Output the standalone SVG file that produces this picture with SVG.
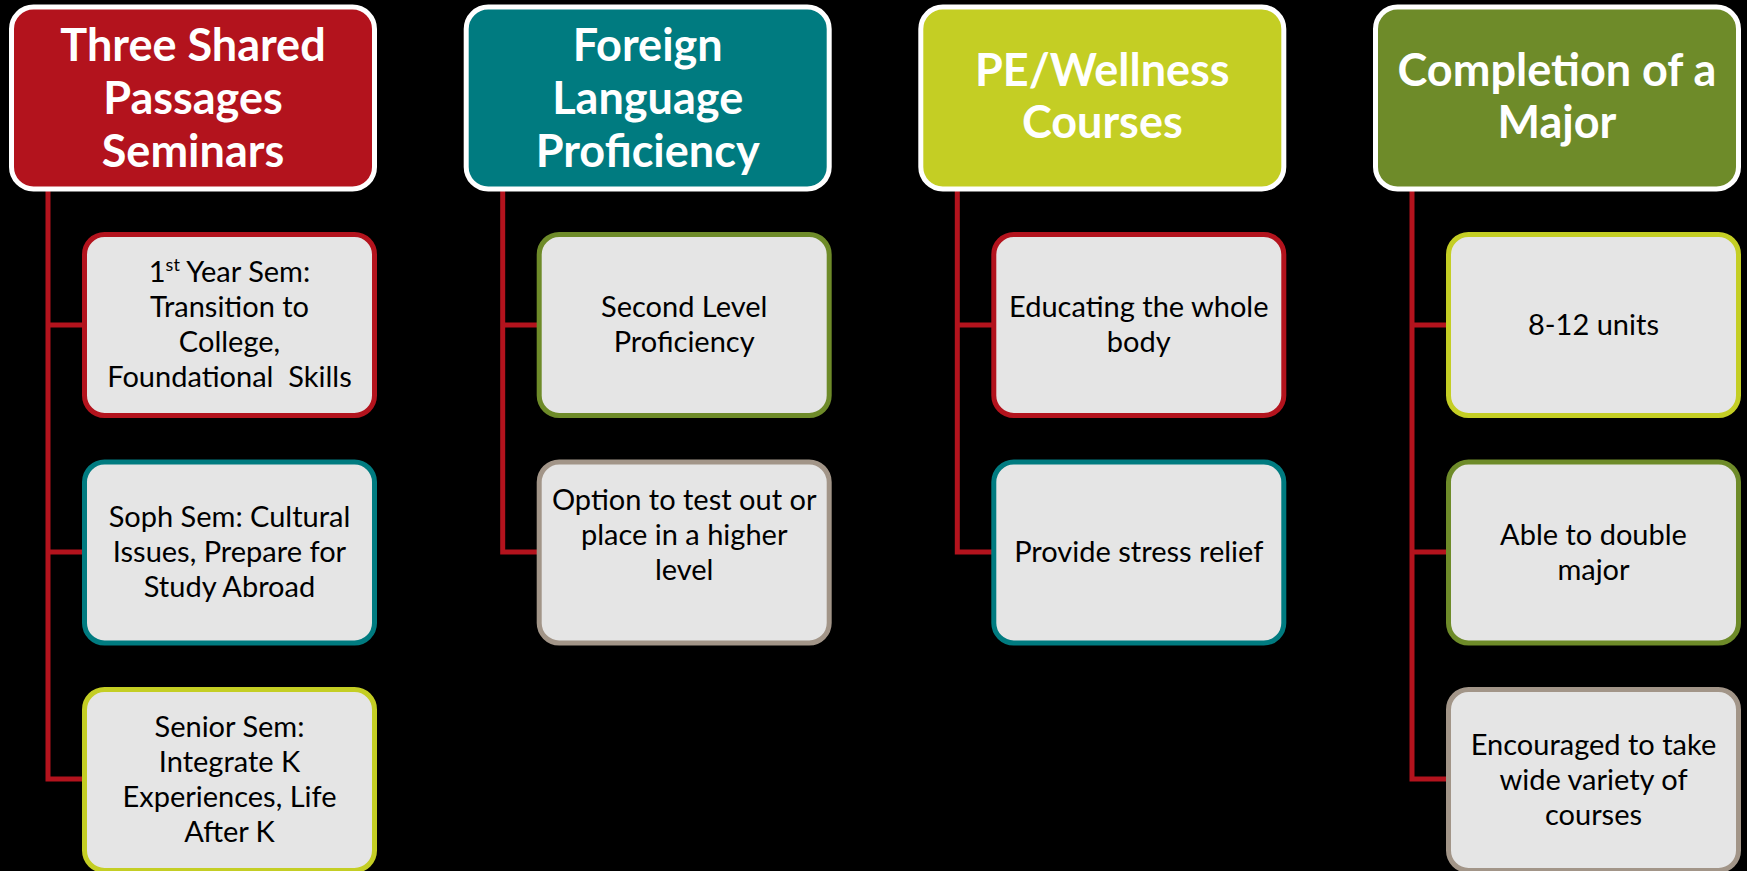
<svg xmlns="http://www.w3.org/2000/svg" width="1747" height="871" viewBox="0 0 1747 871">
<style>
.hd{stroke:#FFFFFF;stroke-width:5}
.ch{fill:#E5E5E5;stroke-width:5}
.ht{font-family:Lato,"Open Sans",sans-serif;font-weight:bold;font-size:45px;fill:#FFFFFF;text-anchor:middle}
.ct{font-family:Lato,"Open Sans",sans-serif;font-size:29px;fill:#000000;text-anchor:middle;white-space:pre}
.red{stroke:#B3131D}.teal{stroke:#007B80}.lime{stroke:#C4CE24}.olive{stroke:#6E8B29}.taupe{stroke:#A29588}
.conn{fill:none;stroke:#B3131D;stroke-width:5}
</style>
<rect width="1747" height="871" fill="#000000"/>
<g id="connectors" class="conn">
<path d="M48 190 V779 H84 M48 325 H84 M48 552 H84"/>
<path d="M502.7 190 V552 H539 M502.7 325 H539"/>
<path d="M957.3 190 V552 H994 M957.3 325 H994"/>
<path d="M1412 190 V779 H1449 M1412 325 H1449 M1412 552 H1449"/>
</g>
<g id="h1"><rect class="hd" x="11.5" y="7" width="363" height="182" rx="22" fill="#B3131D"/>
<text class="ht"><tspan x="193" y="61">Three Shared</tspan><tspan x="193" y="114">Passages</tspan><tspan x="193" y="167">Seminars</tspan></text></g>
<g id="h2"><rect class="hd" x="466.2" y="7" width="363" height="182" rx="22" fill="#007B80"/>
<text class="ht"><tspan x="647.7" y="61">Foreign</tspan><tspan x="647.7" y="114">Language</tspan><tspan x="647.7" y="167">Proficiency</tspan></text></g>
<g id="h3"><rect class="hd" x="920.8" y="7" width="363" height="182" rx="22" fill="#C4CE24"/>
<text class="ht"><tspan x="1102.3" y="86">PE/Wellness</tspan><tspan x="1102.3" y="138">Courses</tspan></text></g>
<g id="h4"><rect class="hd" x="1375.5" y="7" width="363" height="182" rx="22" fill="#6E8B29"/>
<text class="ht"><tspan x="1557" y="86">Completion of a</tspan><tspan x="1557" y="138">Major</tspan></text></g>

<g id="c1a"><rect class="ch red" x="84.5" y="234.5" width="290" height="181" rx="20"/>
<text class="ct"><tspan x="229.5" y="282">1<tspan font-size="18" dy="-11">st</tspan><tspan dy="11"> Year Sem:</tspan></tspan><tspan x="229.5" y="317">Transition to</tspan><tspan x="229.5" y="352">College,</tspan><tspan x="229.5" y="387">Foundational  Skills</tspan></text></g>
<g id="c1b"><rect class="ch teal" x="84.5" y="462" width="290" height="181" rx="20"/>
<text class="ct"><tspan x="229.5" y="527">Soph Sem: Cultural</tspan><tspan x="229.5" y="562">Issues, Prepare for</tspan><tspan x="229.5" y="597">Study Abroad</tspan></text></g>
<g id="c1c"><rect class="ch lime" x="84.5" y="689.5" width="290" height="181" rx="20"/>
<text class="ct"><tspan x="229.5" y="737">Senior Sem:</tspan><tspan x="229.5" y="772">Integrate K</tspan><tspan x="229.5" y="807">Experiences, Life</tspan><tspan x="229.5" y="842">After K</tspan></text></g>

<g id="c2a"><rect class="ch olive" x="539.2" y="234.5" width="290" height="181" rx="20"/>
<text class="ct"><tspan x="684.2" y="317">Second Level</tspan><tspan x="684.2" y="352">Proficiency</tspan></text></g>
<g id="c2b"><rect class="ch taupe" x="539.2" y="462" width="290" height="181" rx="20"/>
<text class="ct"><tspan x="684.2" y="510">Option to test out or</tspan><tspan x="684.2" y="545">place in a higher</tspan><tspan x="684.2" y="580">level</tspan></text></g>

<g id="c3a"><rect class="ch red" x="993.8" y="234.5" width="290" height="181" rx="20"/>
<text class="ct"><tspan x="1138.8" y="317">Educating the whole</tspan><tspan x="1138.8" y="352">body</tspan></text></g>
<g id="c3b"><rect class="ch teal" x="993.8" y="462" width="290" height="181" rx="20"/>
<text class="ct"><tspan x="1138.8" y="562">Provide stress relief</tspan></text></g>

<g id="c4a"><rect class="ch lime" x="1448.5" y="234.5" width="290" height="181" rx="20"/>
<text class="ct"><tspan x="1593.5" y="335">8-12 units</tspan></text></g>
<g id="c4b"><rect class="ch olive" x="1448.5" y="462" width="290" height="181" rx="20"/>
<text class="ct"><tspan x="1593.5" y="545">Able to double</tspan><tspan x="1593.5" y="580">major</tspan></text></g>
<g id="c4c"><rect class="ch taupe" x="1448.5" y="689.5" width="290" height="181" rx="20"/>
<text class="ct"><tspan x="1593.5" y="755">Encouraged to take</tspan><tspan x="1593.5" y="790">wide variety of</tspan><tspan x="1593.5" y="825">courses</tspan></text></g>
</svg>
